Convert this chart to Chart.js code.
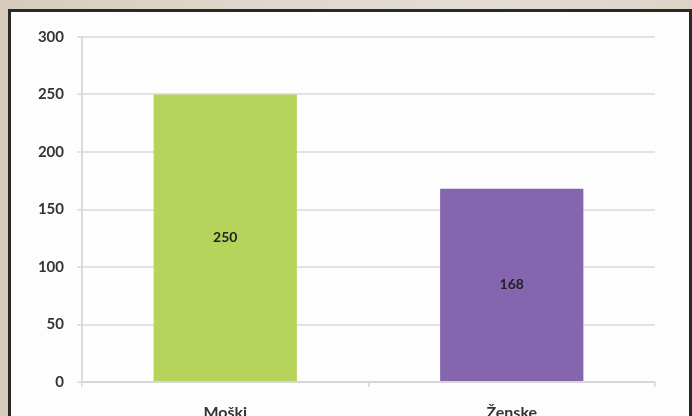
<!DOCTYPE html>
<html>
<head>
<meta charset="utf-8">
<script src="https://cdn.jsdelivr.net/npm/chart.js@4/dist/chart.umd.min.js"></script>
<style>
  html, body { margin: 0; padding: 0; }
  body {
    width: 692px; height: 416px; overflow: hidden; position: relative;
    background: linear-gradient(90deg, #d6cbbd 0%, #e0d8cd 40%, #e3dcd2 70%, #ddd4c8 100%);
  }
  #panel {
    position: absolute; left: 8px; top: 9px; width: 678px; height: 440px;
    background: #fdfdfd; border: 3px solid #2b2826;
  }
  #wrap { position: absolute; left: 0; top: 0; width: 678px; height: 430px; }
</style>
</head>
<body>
<div id="panel"><div id="wrap"><canvas id="chart"></canvas></div></div>
<script>
// Gender split, headcount
const categories = ['Moški', 'Ženske'];
const counts = [250, 168];
const barColors = ['#b6d35c', '#8566ae'];
const yTicks = [0, 50, 100, 150, 200, 250, 300];

// Value printed in the middle of each bar
const barValues = {
    id: 'barValues',
    afterDatasetsDraw(chart) {
        const ctx = chart.ctx;
        const meta = chart.getDatasetMeta(0);
        ctx.save();
        ctx.font = 'bold 14px Lato';
        ctx.fillStyle = '#222';
        ctx.textAlign = 'center';
        ctx.textBaseline = 'middle';
        meta.data.forEach((bar, i) => {
            const mid = (bar.y + bar.base) / 2;
            ctx.fillText(String(counts[i]), bar.x, mid);
        });
        ctx.restore();
    }
};

new Chart(document.getElementById('chart'), {
    type: 'bar',
    data: {
        labels: categories,
        datasets: [{
            data: counts,
            backgroundColor: barColors,
            borderWidth: 0,
            barPercentage: 0.5,
            categoryPercentage: 1.0
        }]
    },
    options: {
        responsive: true,
        maintainAspectRatio: false,
        animation: false,
        layout: { padding: { top: 25, right: 34, left: 0, bottom: 0 } },
        plugins: { legend: { display: false }, tooltip: { enabled: false } },
        scales: {
            x: {
                grid: { display: true, drawOnChartArea: false, drawTicks: true, tickLength: 5, color: '#d6d6d6', lineWidth: 1.5 },
                border: { color: '#d6d6d6', width: 2 },
                ticks: { color: '#333', font: { family: 'Lato', size: 16, weight: 'bold' }, padding: 16 },
                afterFit: s => { s.height = 60; }
            },
            y: {
                min: 0,
                max: 300,
                afterBuildTicks: s => { s.ticks = yTicks.map(v => ({ value: v })); },
                grid: { color: '#e2e2e2', lineWidth: 2, tickLength: 5 },
                border: { color: '#dadada', width: 2 },
                ticks: { color: '#333', font: { family: 'Lato', size: 15, weight: 'bold' }, padding: 13 },
                afterFit: s => { s.width = 71; }
            }
        }
    },
    plugins: [barValues]
});
</script>
</body>
</html>
